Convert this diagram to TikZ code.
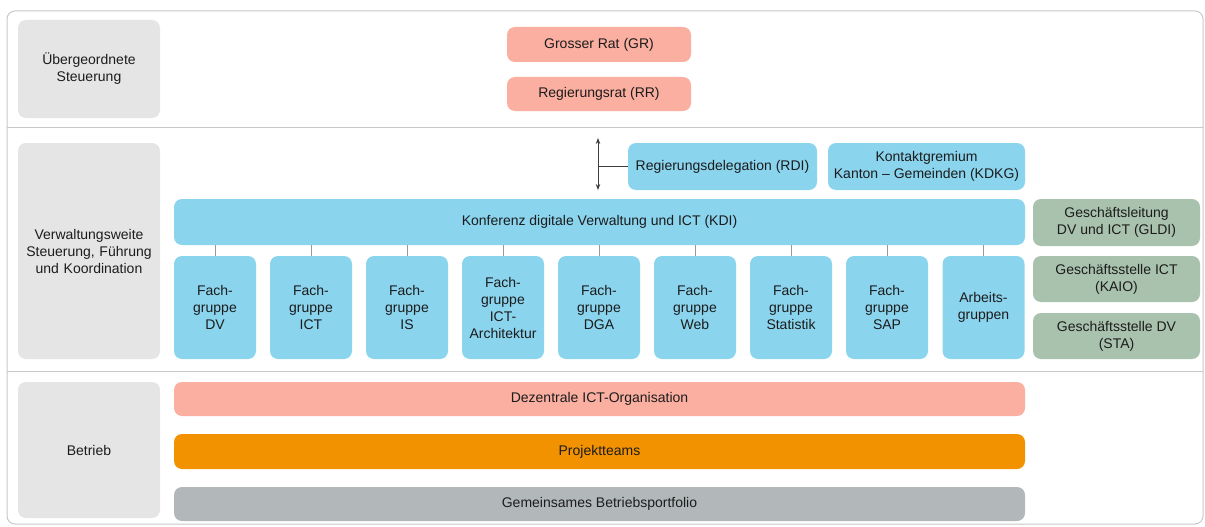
\documentclass[tikz,border=0pt]{standalone}
\usepackage{fontspec}
\setmainfont{Liberation Sans}
\usetikzlibrary{arrows.meta}
\definecolor{lblgray}{HTML}{E5E5E5}
\definecolor{pinkc}{HTML}{FAAFA1}
\definecolor{bluec}{HTML}{8AD4EE}
\definecolor{greenc}{HTML}{A9C2AD}
\definecolor{orangec}{HTML}{F39200}
\definecolor{grayc}{HTML}{B2B8BA}
\definecolor{framec}{HTML}{C8C8C8}
\definecolor{txt}{HTML}{1C1C1C}
\tikzset{
  x=1pt, y=-1pt,
  box/.style={rounded corners=8pt, inner sep=0pt, align=center, text=txt,
    font=\fontsize{14}{17}\selectfont},
  lbl/.style={box, fill=lblgray, minimum width=142pt, text width=140pt},
  pinkbox/.style={box, fill=pinkc},
  bluebox/.style={box, fill=bluec},
  greenbox/.style={box, fill=greenc, minimum width=167pt, minimum height=46pt},
  fach/.style={box, fill=bluec, minimum width=82pt, minimum height=103pt, text width=82pt},
  tick/.style={draw=gray!80, line width=0.9pt},
  conn/.style={draw=txt!85, line width=0.9pt},
}
\begin{document}
\begin{tikzpicture}
\fill[white] (0,0) rectangle (1205,527);
\useasboundingbox (0,0) rectangle (1205,527);
% frame
\draw[framec, line width=1pt, rounded corners=8pt] (7,11) rectangle (1203,524);
\draw[framec, line width=1pt] (7,127) -- (1203,127);
\draw[framec, line width=1pt] (7,371) -- (1203,371);
% left labels
\node[lbl, minimum height=98pt] (l1) at (89,69) {Übergeordnete\\Steuerung};
\node[lbl, minimum height=216pt] (l2) at (89,251) {Verwaltungsweite\\Steuerung, Führung\\und Koordination};
\node[lbl, minimum height=136pt] (l3) at (89,450) {Betrieb};
% top
\node[pinkbox, minimum width=184pt, minimum height=35pt] (gr) at (599,44.5) {Grosser Rat (GR)};
\node[pinkbox, minimum width=184pt, minimum height=34pt] (rr) at (599,94) {Regierungsrat (RR)};
% middle
\node[bluebox, minimum width=189pt, minimum height=47pt] (rdi) at (722.5,166.5) {Regierungsdelegation (RDI)};
\node[bluebox, minimum width=197pt, minimum height=47pt] (kdkg) at (926.5,166.5) {Kontaktgremium\\Kanton -- Gemeinden (KDKG)};
\node[bluebox, minimum width=851pt, minimum height=46pt] (kdi) at (599.5,222) {Konferenz digitale Verwaltung und ICT (KDI)};
\coordinate (atop) at (598,138);
\coordinate (abot) at (598,190);
\coordinate (aj) at (598,166.5);
\draw[conn, {Stealth[length=6pt,width=4.5pt]}-{Stealth[length=6pt,width=4.5pt]}] (atop) -- (abot);
\draw[conn] (aj) -- (rdi.west);
\node[fach] (f1) at (215,307.5) {Fach-\\gruppe\\DV};
\node[fach] (f2) at (311,307.5) {Fach-\\gruppe\\ICT};
\node[fach] (f3) at (407,307.5) {Fach-\\gruppe\\IS};
\node[fach] (f4) at (503,307.5) {Fach-\\gruppe\\ICT-\\Architektur};
\node[fach] (f5) at (599,307.5) {Fach-\\gruppe\\DGA};
\node[fach] (f6) at (695,307.5) {Fach-\\gruppe\\Web};
\node[fach] (f7) at (791,307.5) {Fach-\\gruppe\\Statistik};
\node[fach] (f8) at (887,307.5) {Fach-\\gruppe\\SAP};
\node[fach] (f9) at (983.5,307.5) {Arbeits-\\gruppen};
\foreach \i in {1,...,9} {
  \draw[tick] (kdi.south -| f\i.north) -- (f\i.north);
}
\node[greenbox, minimum height=47pt] (gldi) at (1116.5,222.5) {Geschäftsleitung\\DV und ICT (GLDI)};
\node[greenbox] (kaio) at (1116.5,279) {Geschäftsstelle ICT\\(KAIO)};
\node[greenbox] (sta) at (1116.5,336) {Geschäftsstelle DV\\(STA)};
% bottom
\node[pinkbox, minimum width=851pt, minimum height=34pt] (dez) at (599.5,399) {Dezentrale ICT-Organisation};
\node[box, fill=orangec, minimum width=851pt, minimum height=35pt] (proj) at (599.5,451.5) {Projektteams};
\node[box, fill=grayc, minimum width=851pt, minimum height=34pt] (gem) at (599.5,504) {Gemeinsames Betriebsportfolio};
\end{tikzpicture}
\end{document}
